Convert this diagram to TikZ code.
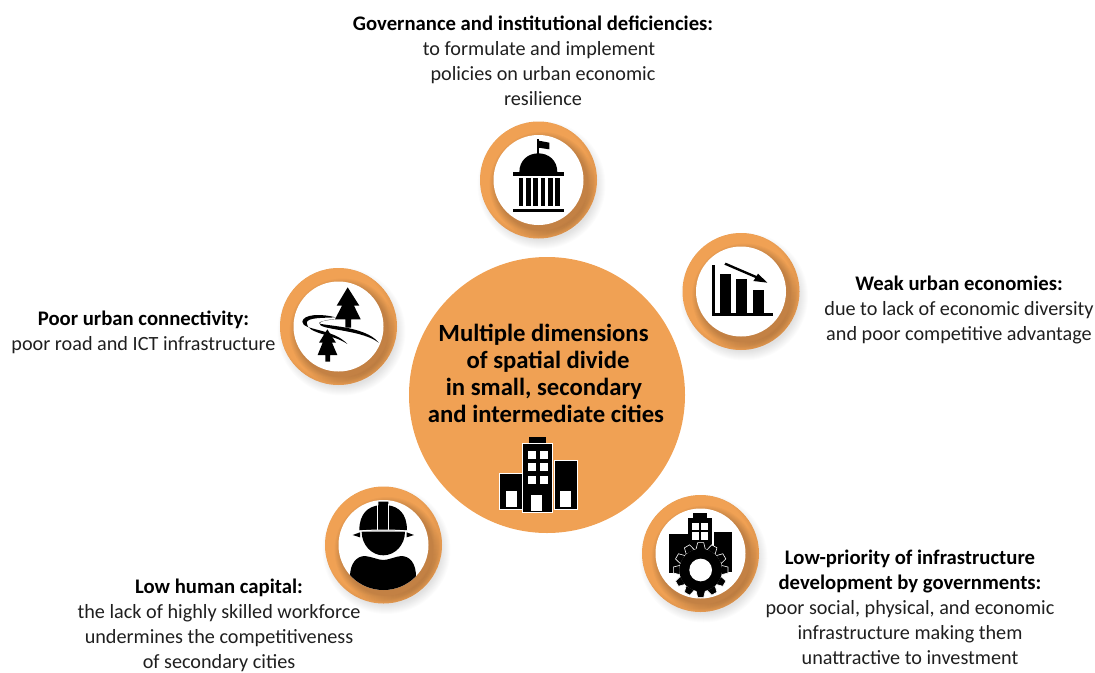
\documentclass[tikz,border=0pt]{standalone}
\usepackage{fontspec}
\setmainfont{Carlito}
\definecolor{ringorange}{HTML}{F0A154}
\usetikzlibrary{calc}

% ring with its soft shadow; #1 name, #2 centre
\newcommand{\ringnode}[2]{
	\foreach \r in {0,...,9}
		\fill[black,opacity=0.012] ($#2+(3,5)$) circle (64-\r);
	\node[ringbase] (#1) at #2 {};
	\begin{scope}
		\clip #2 circle (58.5);
		\foreach \r in {0,...,7}
			\fill[black,opacity=0.022] ($#2+(4,5)$) circle (53-\r);
		\foreach \r in {0,...,3}
			\fill[black,opacity=0.012,even odd rule] #2 circle (58.5) ($#2+(-4,-4)$) circle (59-\r);
	\end{scope}
	\node[ringhole] (#1hole) at #2 {};
}
\newcommand{\headtext}[1]{{\fontsize{20.7}{25}\selectfont\bfseries\color{black}#1}}

\begin{document}
\begin{tikzpicture}[x=1pt,y=-1pt,>=stealth]
\tikzset{
	ringbase/.style={circle,fill=ringorange,minimum size=117pt,inner sep=0pt},
	ringhole/.style={circle,fill=white,minimum size=90pt,inner sep=0pt},
	bodytext/.style={align=center,font=\fontsize{20.2}{25}\selectfont,inner sep=0pt,text=black!88},
	hubtext/.style={align=center,font=\fontsize{24.7}{27.2}\selectfont\bfseries,inner sep=0pt},
	windowpane/.style={fill=white},
}
\useasboundingbox (0,0) rectangle (1095,672);

	\node[circle,fill=ringorange,minimum size=276pt,inner sep=0pt] (hub) at (547,395) {};

	\ringnode{gov}{(538.5,180)}
	\ringnode{econ}{(741,291.5)}
	\ringnode{conn}{(338.5,326.5)}
	\ringnode{human}{(383.5,545)}
	\ringnode{infra}{(700.5,553.5)}

	\node[hubtext] (hubtitle) at (546,373.5) {\hspace*{-5pt}Multiple dimensions\\\hspace*{4pt}of spatial divide\\\hspace*{-4pt}in small, secondary\\and intermediate cities};

	\node[bodytext] (govtext) at (533,61) {\headtext{Governance and institutional deficiencies:}\\\hspace*{12pt}to formulate and implement\\\hspace*{20pt}policies on urban economic\\\hspace*{20pt}resilience};
	\node[bodytext] (econtext) at (959,310) {\headtext{Weak urban economies:}\\due to lack of economic diversity\\and poor competitive advantage};
	\node[bodytext] (conntext) at (143.5,332) {\headtext{Poor urban connectivity:}\\poor road and ICT infrastructure};
	\node[bodytext] (humantext) at (219,625.5) {\headtext{Low human capital:}\\the lack of highly skilled workforce\\undermines the competitiveness\\of secondary cities};
	\node[bodytext] (infratext) at (910,607) {\headtext{Low-priority of infrastructure}\\\headtext{development by governments:}\\poor social, physical, and economic\\infrastructure making them\\unattractive to investment};

	% capitol
	\begin{scope}[shift={(460,110)},scale=1/3]
		\fill (230,88) rectangle (236,132);
		\fill (236,92) -- (268,98) -- (268,118) -- (236,113) -- cycle;
		\fill (178,187) .. controls (178,150) and (205,130) .. (235,130) .. controls (265,130) and (292,150) .. (292,187) -- cycle;
		\fill (158,186) rectangle (312,197);
		\foreach \c in {176,198,220,242,264,285}
			\fill (\c,204) rectangle +(14,84);
		\fill (158,296) rectangle (312,306);
	\end{scope}

	% falling bars
	\begin{scope}[shift={(670,225)},scale=1/3]
		\fill (127,120) rectangle (135,272);
		\fill (127,265) rectangle (310,272);
		\fill (150,147) rectangle (183,265);
		\fill (198,163) rectangle (232,265);
		\fill (249,194) rectangle (282,265);
		\fill (167,113) -- (260,153) -- (264,146) -- (292,173) -- (250,168) -- (256,159) -- (163,119) -- cycle;
	\end{scope}

	% trees and road
	\begin{scope}[shift={(270,260)},scale=1/3]
		\fill (233,82) -- (268,137) -- (252,137) -- (272,178) -- (243,178) -- (243,203) -- (226,203) -- (226,178) -- (195,178) -- (216,137) -- (200,137) -- cycle;
		\fill (172,208) -- (198,248) -- (186,248) -- (202,285) -- (180,285) -- (180,305) -- (166,305) -- (166,285) -- (143,285) -- (158,248) -- (147,248) -- cycle;
		\fill (197,172) .. controls (150,160) and (100,163) .. (97,185) .. controls (97,212) and (190,205) .. (232,252) .. controls (190,222) and (110,222) .. (110,188) .. controls (112,172) and (160,174) .. (197,172) -- cycle;
		\fill (197,178) .. controls (170,180) and (150,184) .. (147,189) .. controls (150,198) and (285,195) .. (326,248) .. controls (280,212) and (170,210) .. (152,196) .. controls (138,188) and (165,178) .. (197,178) -- cycle;
	\end{scope}

	% worker
	\begin{scope}
		\clip (human) circle (45);
		\begin{scope}[shift={(315,480)},scale=1/3]
			\fill (105,330) -- (105,290) .. controls (105,250) and (125,228) .. (150,228) .. controls (170,230) and (190,240) .. (205,240) .. controls (220,240) and (240,230) .. (258,228) .. controls (285,228) and (303,250) .. (303,290) -- (303,330) -- cycle;
			\fill (140,155) .. controls (140,195) and (170,226) .. (205,226) .. controls (240,226) and (270,195) .. (270,155) -- cycle;
			\fill (133,151) .. controls (133,100) and (160,80) .. (190,76) -- (190,65) -- (220,65) -- (220,76) .. controls (250,80) and (276,100) .. (276,151) -- cycle;
			\draw[white,line width=0.7pt] (188,72) -- (188,151) (221,72) -- (221,151);
			\draw[white,line width=1pt] (133,153) .. controls (180,149) and (230,149) .. (276,153);
			\fill (113,165) -- (135,157) -- (135,172) -- cycle;
			\fill (297,165) -- (275,157) -- (275,172) -- cycle;
		\end{scope}
	\end{scope}

	% buildings and gear
	\begin{scope}[shift={(635,490)},scale=1/3]
		\fill (175,70) rectangle (217,85);
		\fill (160,85) rectangle (232,180);
		\fill (102,133) rectangle (160,248);
		\fill (238,127) rectangle (292,245);
		\fill[windowpane] (172,100) rectangle (192,120);
		\fill[windowpane] (198,100) rectangle (218,120);
		\fill[windowpane] (172,127) rectangle (192,150);
		\fill[windowpane] (198,127) rectangle (218,150);
		\path[fill=black,draw=white,line width=0.6pt] (197,240) circle (64);
		\foreach \a in {0,30,...,330}
			\path[fill=black,draw=white,line width=0.6pt,shift={(197,240)},rotate=\a] (-14,-62) -- (-9,-82) -- (9,-82) -- (14,-62) -- cycle;
		\fill (197,240) circle (64);
		\fill[white] (197,240) circle (34);
	\end{scope}

	% city on the hub
	\begin{scope}[shift={(480,425)},scale=1/3]
		\path[fill=black,draw=white,line width=0.5pt] (58,144) rectangle (130,254);
		\path[fill=black,draw=white,line width=0.5pt] (222,107) rectangle (293,253);
		\fill (147,36) rectangle (198,56);
		\path[fill=black,draw=white,line width=0.5pt] (128,55) rectangle (217,263);
		\foreach \wy in {78,115,152} {
			\fill[windowpane] (144,\wy) rectangle +(24,24);
			\fill[windowpane] (180,\wy) rectangle +(24,24);
		}
		\fill[windowpane] (153,210) rectangle (186,258);
		\fill[windowpane] (78,198) rectangle (111,246);
		\fill[windowpane] (240,198) rectangle (273,246);
	\end{scope}
\end{tikzpicture}
\end{document}
